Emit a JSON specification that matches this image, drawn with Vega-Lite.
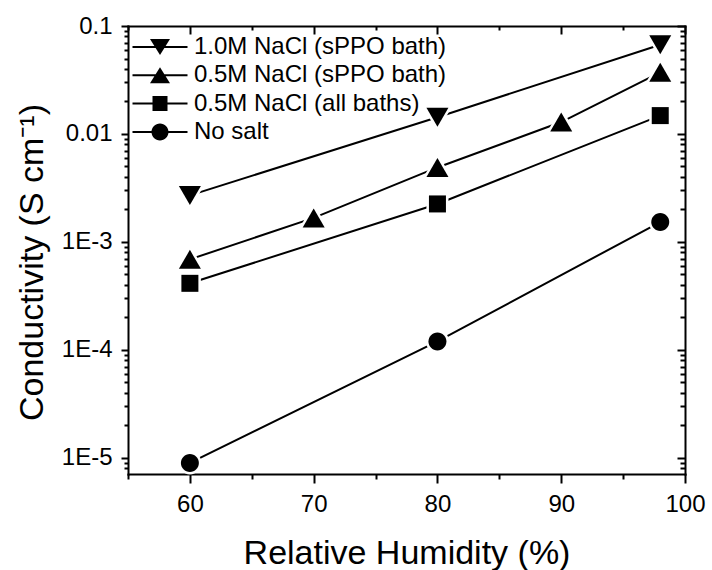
{
  "$schema": "https://vega.github.io/schema/vega-lite/v6.json",
  "width": 557,
  "height": 448,
  "autosize": {"type": "none"},
  "padding": {"left": 128, "top": 26, "right": 27, "bottom": 96},
  "background": "white",
  "config": {
    "view": {"stroke": null},
    "font": "Liberation Sans",
    "axis": {
      "labelFont": "Liberation Sans",
      "titleFont": "Liberation Sans",
      "labelColor": "black",
      "titleColor": "black",
      "tickColor": "black",
      "domainColor": "black",
      "domainWidth": 2,
      "domainCap": "square",
      "tickWidth": 2,
      "labelFontSize": 24,
      "titleFontSize": 34,
      "titleFontWeight": "normal",
      "grid": false,
      "labelFlush": false,
      "labelOverlap": false
    }
  },
  "data": {
    "values": [
      {"series": "1.0M NaCl (sPPO bath)", "rh": 60, "sigma": 0.0027},
      {"series": "1.0M NaCl (sPPO bath)", "rh": 80, "sigma": 0.0143},
      {"series": "1.0M NaCl (sPPO bath)", "rh": 98, "sigma": 0.067},
      {"series": "0.5M NaCl (sPPO bath)", "rh": 60, "sigma": 0.00069},
      {"series": "0.5M NaCl (sPPO bath)", "rh": 70, "sigma": 0.00167},
      {"series": "0.5M NaCl (sPPO bath)", "rh": 80, "sigma": 0.0049},
      {"series": "0.5M NaCl (sPPO bath)", "rh": 90, "sigma": 0.0129},
      {"series": "0.5M NaCl (sPPO bath)", "rh": 98, "sigma": 0.0372},
      {"series": "0.5M NaCl (all baths)", "rh": 60, "sigma": 0.000414},
      {"series": "0.5M NaCl (all baths)", "rh": 80, "sigma": 0.00225},
      {"series": "0.5M NaCl (all baths)", "rh": 98, "sigma": 0.0148},
      {"series": "No salt", "rh": 60, "sigma": 0.000009},
      {"series": "No salt", "rh": 80, "sigma": 0.00012},
      {"series": "No salt", "rh": 98, "sigma": 0.00153}
    ]
  },
  "resolve": {
    "scale": {"shape": "independent"},
    "axis": {"x": "independent", "y": "independent"},
    "legend": {"shape": "independent"}
  },
  "layer": [
    {
      "mark": {"type": "line", "color": "black", "strokeWidth": 2},
      "encoding": {
        "x": {
          "field": "rh",
          "type": "quantitative",
          "scale": {"domain": [55, 100], "nice": false, "zero": false},
          "axis": {
            "orient": "bottom",
            "values": [60, 70, 80, 90, 100],
            "tickSize": 9,
            "labelPadding": 9,
            "title": "Relative Humidity (%)",
            "titlePadding": 20
          }
        },
        "y": {
          "field": "sigma",
          "type": "quantitative",
          "scale": {"type": "log", "domain": [0.0000071, 0.1], "nice": false},
          "axis": {
            "orient": "left",
            "values": [0.00001, 0.0001, 0.001, 0.01, 0.1],
            "labelExpr": "datum.value === 0.1 ? '0.1' : datum.value === 0.01 ? '0.01' : datum.value === 0.001 ? '1E-3' : datum.value === 0.0001 ? '1E-4' : '1E-5'",
            "tickSize": 7,
            "labelPadding": 9,
            "title": "Conductivity (S cm⁻¹)",
            "titlePadding": 12,
            "titleY": 236
          }
        },
        "detail": {"field": "series"}
      }
    },
    {
      "mark": {"type": "point", "filled": true, "color": "white", "stroke": "white", "strokeWidth": 5, "size": 400, "opacity": 1},
      "encoding": {
        "x": {
          "field": "rh",
          "type": "quantitative",
          "axis": {
            "orient": "bottom",
            "values": [55, 65, 75, 85, 95],
            "tickSize": 5,
            "labels": false,
            "domain": false,
            "title": null
          }
        },
        "y": {
          "field": "sigma",
          "type": "quantitative",
          "axis": {
            "orient": "left",
            "values": [0.000008, 0.000009, 0.00002, 0.00003, 0.00004, 0.00005, 0.00006, 0.00007, 0.00008, 0.00009, 0.0002, 0.0003, 0.0004, 0.0005, 0.0006, 0.0007, 0.0008, 0.0009, 0.002, 0.003, 0.004, 0.005, 0.006, 0.007, 0.008, 0.009, 0.02, 0.03, 0.04, 0.05, 0.06, 0.07, 0.08, 0.09],
            "tickSize": 4,
            "labels": false,
            "domain": false,
            "title": null
          }
        },
        "shape": {
          "field": "series",
          "type": "nominal",
          "scale": {
            "domain": ["1.0M NaCl (sPPO bath)", "0.5M NaCl (sPPO bath)", "0.5M NaCl (all baths)", "No salt"],
            "range": ["M-1.1,-0.95H1.1L0,0.95Z", "M-1.1,0.95H1.1L0,-0.95Z", "M-0.85,-0.85H0.85V0.85H-0.85Z", "M-0.9,0A0.9,0.9,0,1,1,0.9,0A0.9,0.9,0,1,1,-0.9,0Z"]
          },
          "legend": null
        }
      }
    },
    {
      "mark": {"type": "point", "filled": true, "color": "black", "strokeWidth": 0, "size": 400, "opacity": 1},
      "encoding": {
        "x": {
          "field": "rh",
          "type": "quantitative",
          "axis": {
            "orient": "top",
            "values": [60, 70, 80, 90, 100],
            "tickSize": -8,
            "labels": false,
            "title": null
          }
        },
        "y": {
          "field": "sigma",
          "type": "quantitative",
          "axis": {
            "orient": "right",
            "values": [0.00001, 0.0001, 0.001, 0.01, 0.1],
            "tickSize": -8,
            "labels": false,
            "title": null
          }
        },
        "shape": {
          "field": "series",
          "type": "nominal",
          "scale": {
            "domain": ["1.0M NaCl (sPPO bath)", "0.5M NaCl (sPPO bath)", "0.5M NaCl (all baths)", "No salt"],
            "range": ["M-1.1,-0.95H1.1L0,0.95Z", "M-1.1,0.95H1.1L0,-0.95Z", "M-0.85,-0.85H0.85V0.85H-0.85Z", "M-0.9,0A0.9,0.9,0,1,1,0.9,0A0.9,0.9,0,1,1,-0.9,0Z"]
          },
          "legend": null
        }
      }
    },
    {
      "transform": [{"filter": "false"}],
      "mark": {"type": "point", "filled": true, "color": "black", "strokeWidth": 0, "size": 400, "opacity": 1},
      "encoding": {
        "x": {
          "field": "rh",
          "type": "quantitative",
          "axis": {
            "orient": "top",
            "values": [55, 65, 75, 85, 95],
            "tickSize": -4,
            "labels": false,
            "domain": false,
            "title": null
          }
        },
        "y": {
          "field": "sigma",
          "type": "quantitative",
          "axis": {
            "orient": "right",
            "values": [0.000008, 0.000009, 0.00002, 0.00003, 0.00004, 0.00005, 0.00006, 0.00007, 0.00008, 0.00009, 0.0002, 0.0003, 0.0004, 0.0005, 0.0006, 0.0007, 0.0008, 0.0009, 0.002, 0.003, 0.004, 0.005, 0.006, 0.007, 0.008, 0.009, 0.02, 0.03, 0.04, 0.05, 0.06, 0.07, 0.08, 0.09],
            "tickSize": -5,
            "labels": false,
            "domain": false,
            "title": null
          }
        },
        "shape": {
          "field": "series",
          "type": "nominal",
          "scale": {
            "domain": ["1.0M NaCl (sPPO bath)", "0.5M NaCl (sPPO bath)", "0.5M NaCl (all baths)", "No salt"],
            "range": [
              "M-2.75,-0.1H2.75V0.1H-2.75ZM-1,-0.8H1L0,0.8Z",
              "M-2.75,-0.1H2.75V0.1H-2.75ZM-1,0.8L0,-0.8L1,0.8Z",
              "M-2.75,-0.1H2.75V0.1H-2.75ZM-0.75,-0.75H0.75V0.75H-0.75Z",
              "M-2.75,-0.1H2.75V0.1H-2.75ZM-0.85,0A0.85,0.85,0,1,1,0.85,0A0.85,0.85,0,1,1,-0.85,0Z"
            ]
          },
          "legend": {
            "title": null,
            "orient": "none",
            "legendX": 20,
            "legendY": 9,
            "padding": 0,
            "labelFont": "Liberation Sans",
            "labelFontSize": 24,
            "labelColor": "black",
            "labelOffset": 22,
            "labelLimit": 400,
            "rowPadding": 4.3,
            "symbolSize": 400,
            "symbolStrokeWidth": 0,
            "symbolFillColor": "black",
            "symbolOpacity": 1
          }
        }
      }
    }
  ]
}
